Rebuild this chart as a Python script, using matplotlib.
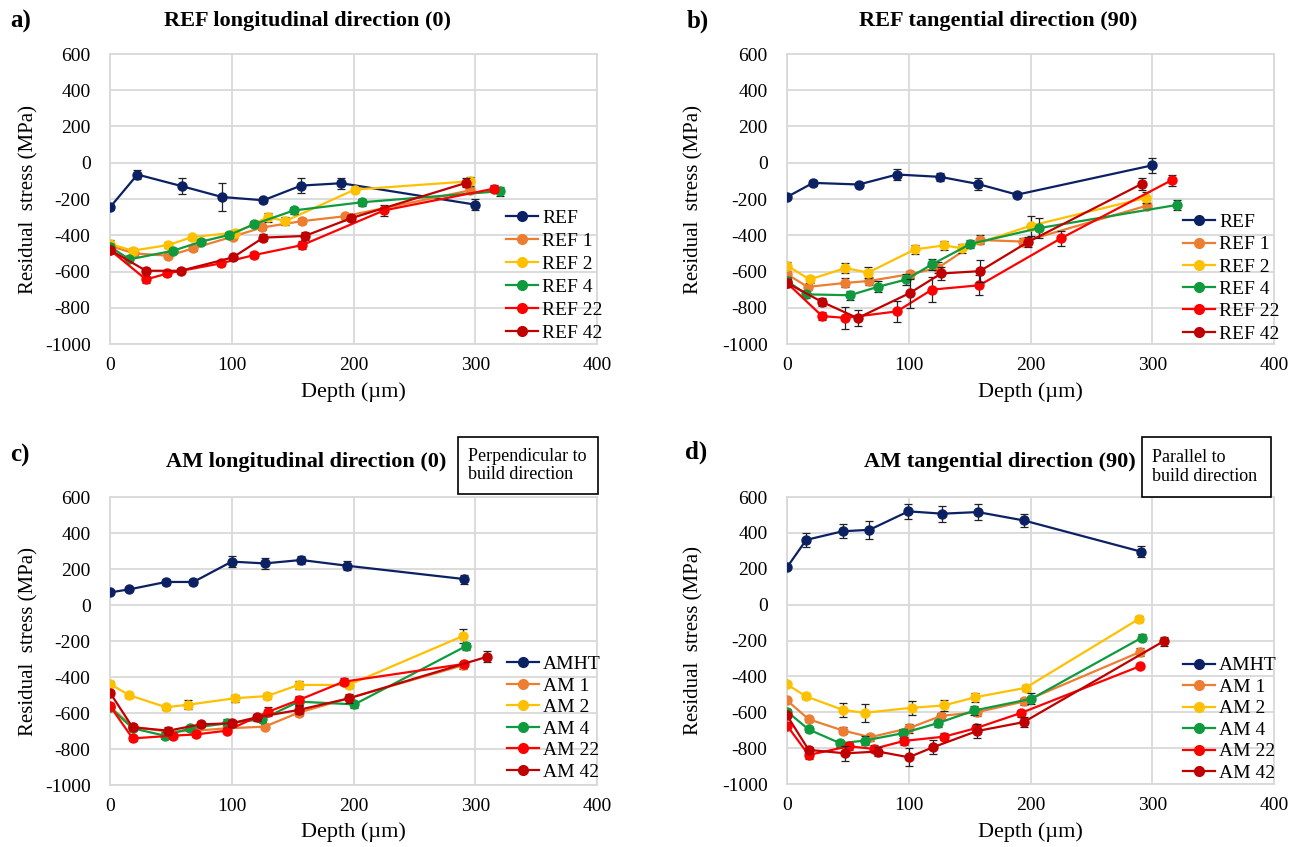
import matplotlib
matplotlib.use("Agg")
import matplotlib.pyplot as plt
from matplotlib.patches import Rectangle
from matplotlib.lines import Line2D

# ---------------- data ----------------
# Panel a: REF longitudinal direction (0)
a_labels = ["REF", "REF 1", "REF 2", "REF 4", "REF 22", "REF 42"]
a_x = [
    [0, 22.5, 59.5, 92, 126, 157, 190, 300],
    [0, 20, 48, 68.5, 101, 125, 158, 193, 296],
    [0, 18.6, 48, 67, 103, 130, 144, 201, 296],
    [0, 16, 52, 75, 98, 118.6, 151, 207, 320],
    [0, 29.6, 47, 91, 118.6, 158, 225, 315.5],
    [0, 29.6, 58, 101, 126, 160, 198, 292.5],
]
a_y = [
    [-246, -65, -130, -189, -207, -126, -113, -231],
    [-459, -500, -513, -472, -407, -357, -322, -295, -152],
    [-448, -485, -454, -411, -385, -300, -322, -148, -102],
    [-463, -533, -485, -435, -398, -339, -263, -218, -157],
    [-481, -644, -611, -555, -509, -454, -263, -143],
    [-481, -596, -596, -522, -413, -404, -306, -111],
]
a_err = [
    [15, 25, 45, 75, 15, 40, 30, 30],
    [15, 15, 15, 15, 15, 15, 15, 15, 15],
    [20, 15, 15, 15, 15, 25, 20, 15, 25],
    [15, 15, 15, 15, 15, 15, 20, 20, 25],
    [15, 20, 15, 15, 15, 20, 30, 20],
    [15, 15, 15, 15, 20, 20, 15, 25],
]

# Panel b: REF tangential direction (90)
b_labels = ["REF", "REF 1", "REF 2", "REF 4", "REF 22", "REF 42"]
b_x = [
    [0, 21.4, 59, 90.4, 126, 156.7, 189, 299.5],
    [0, 17, 48, 67.7, 100.8, 124, 158.4, 194, 295.5],
    [0, 18.6, 48, 66.6, 105, 129, 144, 200, 294.5],
    [0, 15.9, 51.5, 74.5, 98, 119, 150.7, 206.8, 320],
    [0, 28.8, 48, 90.4, 119, 158, 225, 316],
    [0, 28.8, 58, 100.8, 126.6, 158.4, 198, 291.3],
]
b_y = [
    [-189, -111, -120, -65, -78, -117, -176, -15],
    [-615, -685, -663, -652, -615, -580, -426, -435, -237],
    [-567, -644, -581, -606, -478, -456, -472, -348, -194],
    [-652, -726, -731, -685, -644, -561, -448, -361, -233],
    [-663, -846, -856, -820, -700, -676, -417, -96],
    [-663, -768, -857, -719, -611, -598, -437, -117],
]
b_err = [
    [10, 15, 15, 30, 20, 35, 15, 40],
    [20, 15, 25, 20, 20, 30, 25, 20, 15],
    [20, 20, 30, 30, 25, 25, 25, 55, 30],
    [20, 20, 25, 30, 30, 30, 20, 55, 30],
    [20, 20, 60, 60, 70, 55, 40, 30],
    [20, 20, 45, 80, 35, 60, 30, 35],
]

# Panel c: AM longitudinal direction (0)
c_labels = ["AMHT", "AM 1", "AM 2", "AM 4", "AM 22", "AM 42"]
c_x = [
    [0, 16, 46, 68.5, 100, 127, 157, 195, 291],
    [0, 18.6, 48, 70.7, 96, 127, 155, 290],
    [0, 16, 46, 64, 102.7, 128.8, 155, 196, 290],
    [0, 18.6, 45, 66, 96, 124.7, 155, 200.8, 292],
    [0, 18.6, 51.5, 70.7, 96, 130, 155, 192, 290.4],
    [0, 18.6, 48, 74.8, 100, 120.5, 155, 196, 310],
]
c_y = [
    [70, 87, 128, 128, 241, 231, 250, 218, 144],
    [-565, -676, -704, -698, -685, -676, -598, -335],
    [-439, -502, -568, -554, -518, -506, -444, -444, -172],
    [-569, -685, -726, -685, -657, -635, -537, -552, -230],
    [-561, -741, -726, -719, -698, -593, -528, -426, -328],
    [-487, -680, -698, -663, -657, -624, -583, -519, -287],
]
c_err = [
    [10, 10, 15, 15, 30, 30, 20, 25, 25],
    [15, 15, 15, 15, 15, 15, 20, 20],
    [15, 15, 15, 25, 20, 15, 20, 15, 40],
    [15, 15, 20, 15, 25, 15, 25, 20, 20],
    [15, 15, 15, 15, 15, 25, 25, 20, 15],
    [15, 15, 20, 15, 20, 20, 20, 25, 30],
]

# Panel d: AM tangential direction (90)
d_labels = ["AMHT", "AM 1", "AM 2", "AM 4", "AM 22", "AM 42"]
d_x = [
    [0, 15.8, 45.8, 67.7, 99.7, 127.5, 156.7, 194.7, 291],
    [0, 17.8, 46, 68.5, 100, 126.8, 156, 194.5, 290],
    [0, 15.9, 46, 63.8, 102.7, 128.8, 154.8, 195.9, 289],
    [0, 17.8, 43.8, 63.8, 95, 123.8, 154, 200.8, 291.5],
    [0, 17.8, 50.7, 71.2, 96, 129, 155, 191.8, 290],
    [0, 17.8, 48, 74.8, 100, 120, 156, 194.4, 309.6],
]
d_y = [
    [208, 361, 409, 417, 520, 507, 516, 469, 295],
    [-534, -639, -702, -739, -689, -620, -600, -540, -264],
    [-445, -512, -587, -603, -575, -562, -516, -464, -80],
    [-596, -696, -773, -758, -717, -661, -590, -525, -184],
    [-674, -838, -790, -804, -760, -736, -689, -605, -343],
    [-618, -810, -829, -819, -851, -795, -705, -655, -203],
]
d_err = [
    [10, 40, 40, 50, 40, 45, 45, 35, 30],
    [15, 15, 20, 20, 25, 15, 20, 20, 20],
    [10, 15, 40, 50, 40, 30, 25, 15, 15],
    [15, 15, 20, 25, 25, 20, 25, 30, 20],
    [15, 25, 20, 20, 20, 20, 20, 20, 10],
    [15, 15, 40, 25, 50, 40, 40, 30, 25],
]

titles = ["REF longitudinal direction (0)", "REF tangential direction (90)",
          "AM longitudinal direction (0)", "AM tangential direction (90)"]
panel_letters = ["a)", "b)", "c)", "d)"]
x_ticks = [0, 100, 200, 300, 400]
y_ticks = [-1000, -800, -600, -400, -200, 0, 200, 400, 600]
colors = ["#0b2163", "#ED7D31", "#FFC000", "#109a3e", "#FF0000", "#C00000"]

# ---------------- figure ----------------
W, H = 1303, 847
plt.rcParams["font.family"] = ["Liberation Serif", "DejaVu Serif"]
plt.rcParams["axes.unicode_minus"] = False
fig = plt.figure(figsize=(W / 100, H / 100), dpi=100)


def rect(l, t, r, b):
    return [l / W, 1 - b / H, (r - l) / W, (b - t) / H]


panels = [
    dict(rect=rect(110, 54, 597, 344), lab=a_labels, xs=a_x, ys=a_y, es=a_err,
         title_xy=(308, 21), letter_xy=(10, 21), ylab_x=29, xlab_y=392,
         leg=(0.813, 0.465), ls=0.28),
    dict(rect=rect(787, 54, 1274, 344), lab=b_labels, xs=b_x, ys=b_y, es=b_err,
         title_xy=(998, 21), letter_xy=(687, 21), ylab_x=694, xlab_y=392,
         leg=(0.813, 0.450), ls=0.24),
    dict(rect=rect(110, 497, 597, 785), lab=c_labels, xs=c_x, ys=c_y, es=c_err,
         title_xy=(306, 462), letter_xy=(10, 455), ylab_x=29, xlab_y=832,
         leg=(0.815, 0.449), ls=0.2),
    dict(rect=rect(787, 497, 1274, 784), lab=d_labels, xs=d_x, ys=d_y, es=d_err,
         title_xy=(1000, 462), letter_xy=(685, 452), ylab_x=694, xlab_y=832,
         leg=(0.813, 0.443), ls=0.2),
]

for i, p in enumerate(panels):
    ax = fig.add_axes(p["rect"])
    handles = []
    for j in range(6):
        ax.errorbar(p["xs"][j], p["ys"][j], yerr=p["es"][j], color=colors[j],
                    marker="o", markersize=6.5, linewidth=1.6,
                    ecolor="#222222", elinewidth=0.9, capsize=2.8, capthick=0.9,
                    zorder=3 + j)
        handles.append(Line2D([], [], color=colors[j], marker="o",
                              markersize=7, linewidth=1.6, label=p["lab"][j]))
    ax.set_xlim(0, 400)
    ax.set_ylim(-1000, 600)
    ax.set_xticks(x_ticks)
    ax.set_yticks(y_ticks)
    ax.grid(True, color="#d9d9d9", linewidth=1.3, zorder=0)
    ax.set_axisbelow(True)
    for s in ax.spines.values():
        s.set_color("#d9d9d9")
        s.set_linewidth(1.3)
    ax.tick_params(axis="both", length=0, labelsize=14, colors="black")
    ax.tick_params(axis="y", pad=14)
    ax.tick_params(axis="x", pad=9)
    ax.legend(handles=handles, loc="upper left", bbox_to_anchor=p["leg"],
              frameon=False, fontsize=14, borderpad=0, borderaxespad=0,
              labelspacing=p["ls"], handlelength=1.65, handletextpad=0.2)

    # texts in figure pixel coordinates
    tx, ty = p["title_xy"]
    fig.text(tx / W, 1 - ty / H, titles[i], ha="center", va="center",
             fontsize=16, fontweight="bold")
    lx, ly = p["letter_xy"]
    fig.text(lx / W, 1 - ly / H, panel_letters[i], ha="left", va="center",
             fontsize=18, fontweight="bold")
    l, b, w, h = p["rect"]
    fig.text(p["ylab_x"] / W, b + h / 2, "Residual  stress (MPa)", rotation=90,
             ha="center", va="center", fontsize=15)
    fig.text(l + w / 2, 1 - p["xlab_y"] / H, "Depth (\u00b5m)", ha="center",
             va="center", fontsize=16)

# annotation boxes
boxes = [((458, 437, 598, 494), "Perpendicular to\nbuild direction"),
         ((1142, 437, 1271, 497), "Parallel to\nbuild direction")]
for (l, t, r, b), txt in boxes:
    fig.patches.append(Rectangle((l / W, 1 - b / H), (r - l) / W, (b - t) / H,
                                 transform=fig.transFigure, fill=True,
                                 facecolor="white", edgecolor="black",
                                 linewidth=1.2))
    fig.text((l + 10) / W, 1 - (t + b) / 2 / H, txt, ha="left", va="center",
             fontsize=13, linespacing=1.1)

fig.savefig("out.png", dpi=100)
